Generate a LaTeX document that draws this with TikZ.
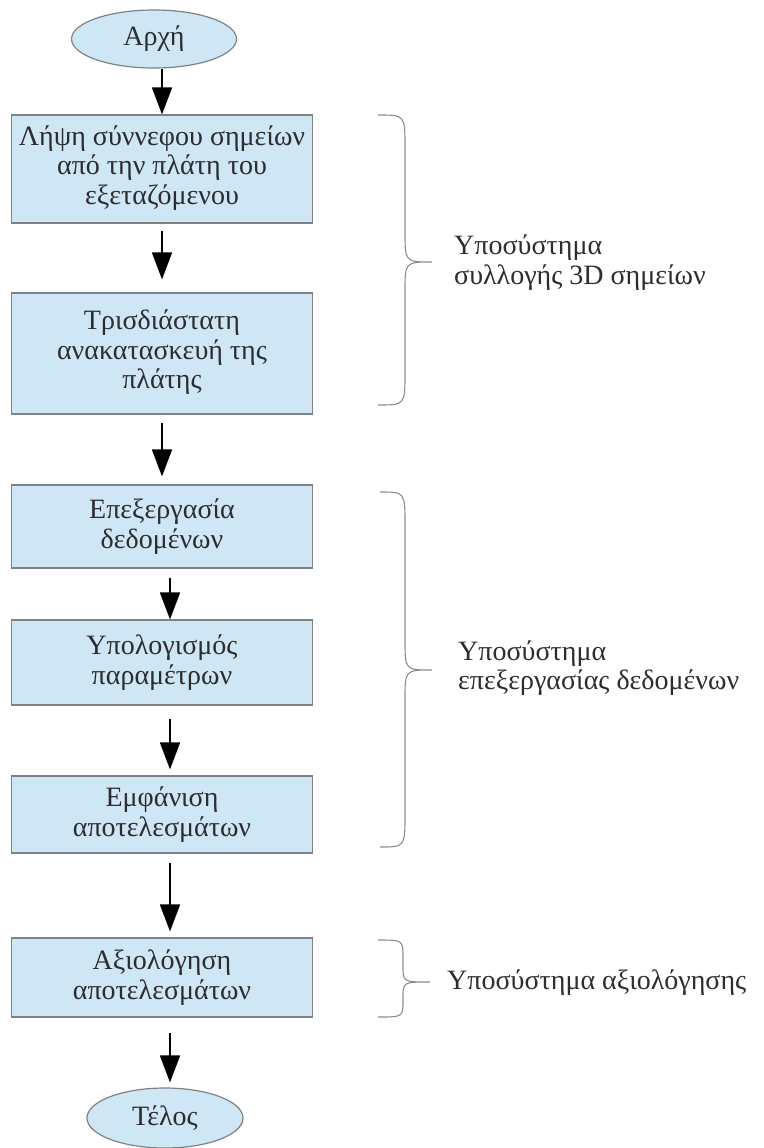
\documentclass[tikz,border=0pt]{standalone}
\usepackage{fontspec}
\setmainfont{Liberation Serif}
\usetikzlibrary{arrows.meta,shapes.geometric}
\definecolor{boxblue}{RGB}{207,230,245}
\definecolor{boxline}{RGB}{125,130,135}
\definecolor{bracegrey}{RGB}{140,140,140}
\definecolor{txt}{RGB}{45,45,48}
\tikzset{
  stepbox/.style={rectangle, draw=boxline, line width=1.2pt, fill=boxblue, minimum width=301pt, inner sep=0pt, align=center, text=txt, font=\fontsize{28}{29.5}\selectfont},
  term/.style={ellipse, draw=boxline, line width=1.2pt, fill=boxblue, inner sep=0pt, text=txt, font=\fontsize{28}{29.5}\selectfont},
  arr/.style={draw=black, line width=1.8pt, -{Triangle[length=27pt,width=20pt]}},
  bracetxt/.style={anchor=west, align=left, inner sep=0pt, text=txt, font=\fontsize{28}{29.5}\selectfont},
  bracepath/.style={draw=bracegrey, line width=1.1pt}
}
\begin{document}
\begin{tikzpicture}[x=1pt,y=-1pt]
\useasboundingbox (0,0) rectangle (763,1148);
\node[term, minimum width=165pt, minimum height=58pt] (start) at (154,39) {Αρχή};
\node[stepbox, minimum height=108pt] (b1) at (162,169) {\raisebox{-2pt}{\begin{tabular}{@{}c@{}}Λήψη σύννεφου σημείων\\από την πλάτη του\\εξεταζόμενου\end{tabular}}};
\node[stepbox, minimum height=121pt] (b2) at (162,353.5) {\raisebox{-7pt}{\begin{tabular}{@{}c@{}}Τρισδιάστατη\\ανακατασκευή της\\πλάτης\end{tabular}}};
\node[stepbox, minimum height=83pt] (b3) at (162,526.5) {Επεξεργασία\\δεδομένων};
\node[stepbox, minimum height=85pt] (b4) at (162,662.5) {Υπολογισμός\\παραμέτρων};
\node[stepbox, minimum height=77pt] (b5) at (162,814.5) {Εμφάνιση\\αποτελεσμάτων};
\node[stepbox, minimum height=79pt] (b6) at (162,977.5) {Αξιολόγηση\\αποτελεσμάτων};
\node[term, minimum width=156pt, minimum height=60pt] (end) at (165,1118) {Τέλος};

\draw[arr] (start.south -| b1.north) -- (b1.north);
\draw[arr, shorten <=7pt, shorten >=13pt] (b1.south) -- (b2.north);
\draw[arr, shorten <=8pt, shorten >=8pt] (b2.south) -- (b3.north);
\draw[arr, shorten <=9pt] ([xshift=8pt]b3.south) -- ([xshift=8pt]b4.north);
\draw[arr, shorten <=13pt, shorten >=6pt] ([xshift=8pt]b4.south) -- ([xshift=8pt]b5.north);
\draw[arr, shorten <=9pt, shorten >=6pt] ([xshift=8pt]b5.south) -- ([xshift=8pt]b6.north);
\draw[arr, shorten <=15pt, shorten >=5pt] ([xshift=8pt]b6.south) -- ([xshift=5pt]end.north);

% braces
\draw[bracepath] (378,115) .. controls (405,115) .. (405,148) -- (405,232) .. controls (405,262) .. (432,262) .. controls (405,262) .. (405,292) -- (405,372) .. controls (405,405) .. (378,405);
\draw[bracepath] (380,492) .. controls (405,492) .. (405,525) -- (405,640) .. controls (405,670) .. (432,670) .. controls (405,670) .. (405,700) -- (405,814) .. controls (405,847) .. (380,847);
\draw[bracepath] (378,940) .. controls (403,940) .. (403,958) -- (403,966) .. controls (403,982) .. (430,982) .. controls (403,982) .. (403,998) -- (403,1000) .. controls (403,1017) .. (378,1017);

\node[bracetxt] (s1) at (454,262.5) {Υποσύστημα\\συλλογής 3D σημείων};
\node[bracetxt] (s2) at (458,668) {Υποσύστημα\\επεξεργασίας δεδομένων};
\node[bracetxt] (s3) at (447,983) {Υποσύστημα αξιολόγησης};
\end{tikzpicture}
\end{document}
